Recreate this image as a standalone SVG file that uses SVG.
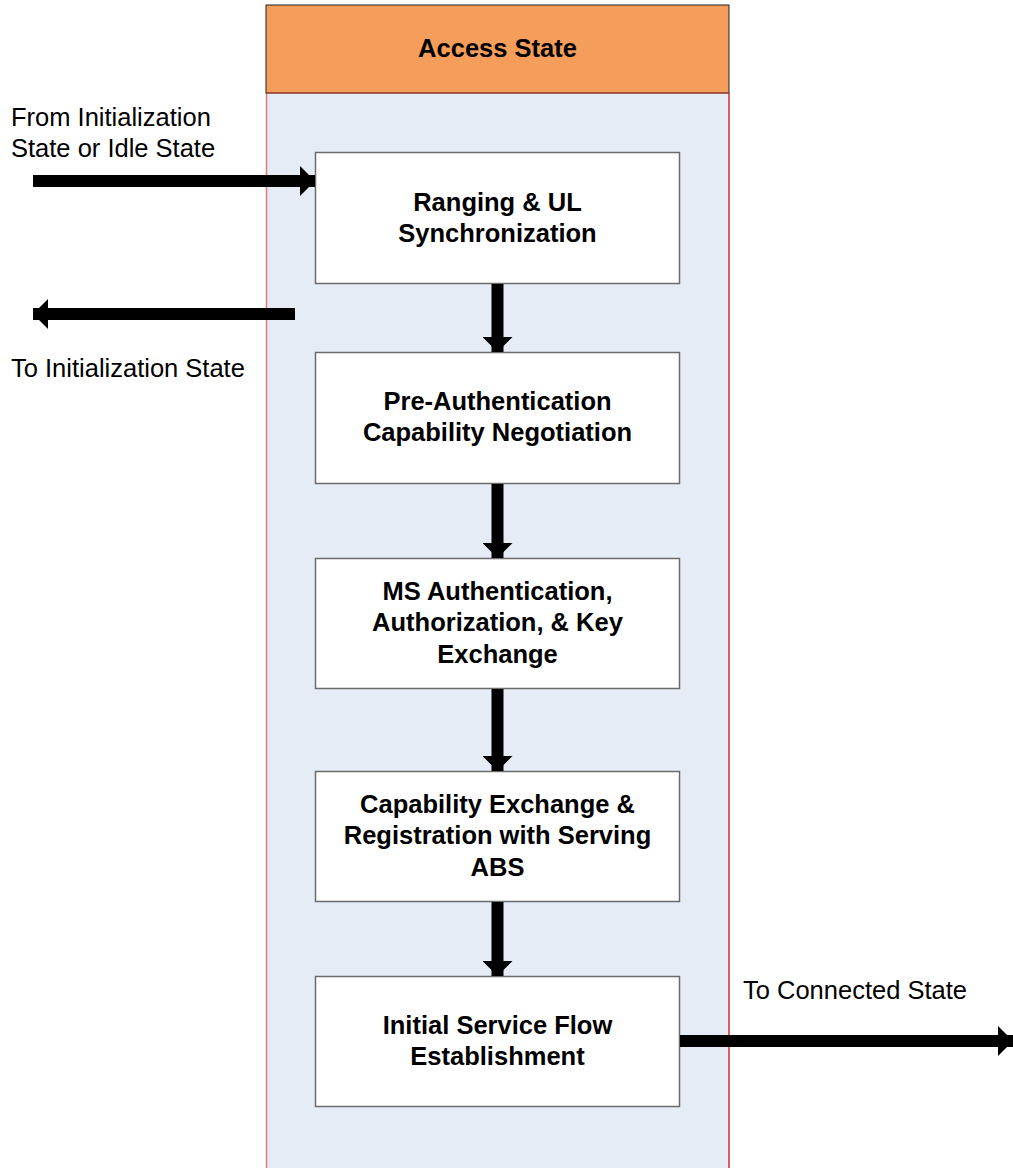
<svg xmlns="http://www.w3.org/2000/svg" width="1013" height="1168" viewBox="0 0 1013 1168">
  <style>
    .lbl { font-family: "Liberation Sans", Arial, sans-serif; font-size: 25.5px; fill: #000; }
    .hd { font-family: "Liberation Sans", Arial, sans-serif; font-size: 25.5px; font-weight: bold; fill: #000; text-anchor: middle; }
    .box { fill: #ffffff; stroke: #6b6b6b; stroke-width: 1.5; }
    .flow { stroke: #000; stroke-width: 12; fill: none; }
  </style>
  <defs>
    <marker id="head" viewBox="0 0 15 30" refX="15" refY="15" markerWidth="15" markerHeight="30" markerUnits="userSpaceOnUse" orient="auto">
      <path d="M0,0 L15,15 L0,30 Z" fill="#000"/>
    </marker>
  </defs>
  <rect width="1013" height="1168" fill="#ffffff"/>

  <!-- state lane -->
  <g id="access-state">
    <rect x="266" y="93" width="463" height="1080" fill="#e5ecf6"/>
    <line x1="266.5" y1="93" x2="266.5" y2="1168" stroke="#e07a7a" stroke-width="1.5"/>
    <line x1="729" y1="93" x2="729" y2="1168" stroke="#c00000" stroke-width="1.2"/>
    <rect x="266" y="5" width="463" height="88" fill="#f59d5a" stroke="#222" stroke-width="1"/>
    <line x1="266" y1="93" x2="729" y2="93" stroke="#c0392b" stroke-width="1"/>
    <text class="hd" x="497.5" y="57">Access State</text>
  </g>

  <g id="ranging">
    <rect class="box" x="315.5" y="152.5" width="364" height="131"/>
    <text class="hd" x="497.5" y="211">Ranging &amp; UL</text>
    <text class="hd" x="497.5" y="242">Synchronization</text>
  </g>
  <g id="pre-auth">
    <rect class="box" x="315.5" y="352.5" width="364" height="131"/>
    <text class="hd" x="497.5" y="410">Pre-Authentication</text>
    <text class="hd" x="497.5" y="441">Capability Negotiation</text>
  </g>
  <g id="ms-auth">
    <rect class="box" x="315.5" y="558.5" width="364" height="130"/>
    <text class="hd" x="497.5" y="600">MS Authentication,</text>
    <text class="hd" x="497.5" y="631">Authorization, &amp; Key</text>
    <text class="hd" x="497.5" y="663">Exchange</text>
  </g>
  <g id="registration">
    <rect class="box" x="315.5" y="771.5" width="364" height="130"/>
    <text class="hd" x="497.5" y="813">Capability Exchange &amp;</text>
    <text class="hd" x="497.5" y="844">Registration with Serving</text>
    <text class="hd" x="497.5" y="876">ABS</text>
  </g>
  <g id="service-flow">
    <rect class="box" x="315.5" y="976.5" width="364" height="130"/>
    <text class="hd" x="497.5" y="1034">Initial Service Flow</text>
    <text class="hd" x="497.5" y="1065">Establishment</text>
  </g>

  <g id="connectors">
    <line class="flow" x1="33" y1="181" x2="315" y2="181" marker-end="url(#head)"/>
    <line class="flow" x1="295" y1="314" x2="33" y2="314" marker-end="url(#head)"/>
    <line class="flow" x1="497.5" y1="284" x2="497.5" y2="352" marker-end="url(#head)"/>
    <line class="flow" x1="497.5" y1="484" x2="497.5" y2="558" marker-end="url(#head)"/>
    <line class="flow" x1="497.5" y1="689" x2="497.5" y2="771" marker-end="url(#head)"/>
    <line class="flow" x1="497.5" y1="902" x2="497.5" y2="976" marker-end="url(#head)"/>
    <line class="flow" x1="680" y1="1041" x2="1013" y2="1041" marker-end="url(#head)"/>
  </g>

  <g id="labels">
    <text class="lbl" x="11" y="126">From Initialization</text>
    <text class="lbl" x="11" y="157">State or Idle State</text>
    <text class="lbl" x="11" y="377">To Initialization State</text>
    <text class="lbl" x="743" y="999">To Connected State</text>
  </g>
</svg>
